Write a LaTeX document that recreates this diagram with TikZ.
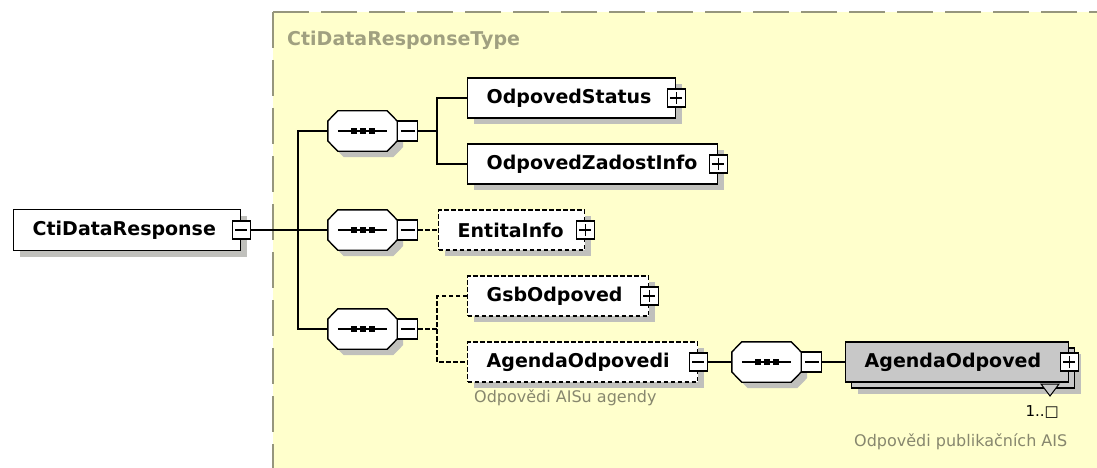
\documentclass[tikz,border=0pt]{standalone}
\usepackage{fontspec}
\setmainfont{DejaVu Sans}
\usetikzlibrary{shadows,calc}
\definecolor{bgyellow}{RGB}{255,255,204}
\definecolor{frame}{RGB}{150,150,125}
\definecolor{typetxt}{RGB}{160,160,128}
\definecolor{anntxt}{RGB}{135,135,110}
\definecolor{shade}{RGB}{192,192,188}
\definecolor{stackfill}{RGB}{200,200,200}
\newcommand{\eltext}[2]{\makebox[#1][l]{#2}}
\tikzset{
  elembase/.style={draw=black, line width=1.4pt, anchor=west, minimum height=40pt,
    inner xsep=19pt, inner ysep=0pt, font=\fontsize{19}{22}\selectfont\bfseries},
  boxshadow/.style={general shadow={fill=shade, shadow xshift=6pt, shadow yshift=-6pt}},
  elem/.style={elembase, fill=white, boxshadow},
  optional/.style={dash pattern=on 4.5pt off 2.5pt},
  tog/.style={draw=black, line width=1.2pt, fill=white, minimum size=18pt, inner sep=0pt},
  minus/.style={tog, path picture={\draw[line width=1.2pt]
      ([xshift=3pt]path picture bounding box.west) -- ([xshift=-3pt]path picture bounding box.east);}},
  plus/.style={tog, path picture={\draw[line width=1.2pt]
      ([xshift=3pt]path picture bounding box.west) -- ([xshift=-3pt]path picture bounding box.east)
      ([yshift=3pt]path picture bounding box.south) -- ([yshift=-3pt]path picture bounding box.north);}},
  seqbox/.style={minimum width=69pt, minimum height=40pt, inner sep=0pt},
  conn/.style={line width=1.3pt},
  ann/.style={anchor=west, inner sep=0pt, font=\fontsize{16}{18}\selectfont, text=anntxt},
}
\begin{document}
\begin{tikzpicture}[x=1pt,y=1pt]
\useasboundingbox (0,0) rectangle (1097,-468);
\fill[white] (0,0) rectangle (1097,-468);
\fill[bgyellow] (273,-12) rectangle (1097,-468);
\draw[frame, line width=2pt, dash pattern=on 36pt off 12pt] (273,-12) -- (273,-468);
\draw[frame, line width=2pt, dash pattern=on 36pt off 12pt] (273,-12) -- (1097,-12);

\node[anchor=west, inner sep=0pt, font=\fontsize{19}{22}\selectfont\bfseries, text=typetxt] (tl) at (287,-40) {CtiDataResponseType};

% root element
\node[elem, minimum height=41pt] (cti) at (13,-230) {\eltext{189pt}{CtiDataResponse}};
\node[minus] (ctim) at (cti.east) {};
\coordinate (trunk) at (298,-230);

% sequence compositors
\node[seqbox] (s1) at (362.5,-131) {};
\node[seqbox] (s2) at (362.5,-230) {};
\node[seqbox] (s3) at (362.5,-329) {};
\node[seqbox] (s4) at (766.5,-362) {};
\foreach \n in {s1,s2,s3,s4}{
  \draw[line width=1.4pt, fill=white, boxshadow]
    ([xshift=10pt]\n.north west) -- ([xshift=-10pt]\n.north east) -- ([yshift=10pt]\n.east)
    -- ([yshift=-10pt]\n.east) -- ([xshift=-10pt]\n.south east) -- ([xshift=10pt]\n.south west)
    -- ([yshift=-10pt]\n.west) -- ([yshift=10pt]\n.west) -- cycle;
  \draw[line width=1.2pt] ([xshift=10pt]\n.west) -- ([xshift=-10pt]\n.east);
  \fill ([xshift=-12pt,yshift=-3pt]\n.center) rectangle ([xshift=-6pt,yshift=3pt]\n.center);
  \fill ([xshift=-3pt,yshift=-3pt]\n.center) rectangle ([xshift=3pt,yshift=3pt]\n.center);
  \fill ([xshift=6pt,yshift=-3pt]\n.center) rectangle ([xshift=12pt,yshift=3pt]\n.center);
}
\node[minus, minimum size=20pt, anchor=west] (s1m) at (s1.east) {};
\node[minus, minimum size=20pt, anchor=west] (s2m) at (s2.east) {};
\node[minus, minimum size=20pt, anchor=west] (s3m) at (s3.east) {};
\node[minus, minimum size=20pt, anchor=west] (s4m) at (s4.east) {};

% child elements
\node[elem] (st) at (467,-98) {\eltext{170pt}{OdpovedStatus}};
\node[plus] (stp) at (st.east) {};
\node[elem] (zi) at (467,-164) {\eltext{212pt}{OdpovedZadostInfo}};
\node[plus] (zip) at (zi.east) {};
\node[elem, optional] (ei) at (438,-230) {\eltext{108pt}{EntitaInfo}};
\node[plus] (eip) at (ei.east) {};
\node[elem, optional] (gs) at (467,-296) {\eltext{143pt}{GsbOdpoved}};
\node[plus] (gsp) at (gs.east) {};
\node[elem, optional] (ai) at (467,-362) {\eltext{192pt}{AgendaOdpovedi}};
\node[minus] (aim) at (ai.east) {};
\node[ann] (an1) at (474,-398) {Odpovědi AISu agendy};

% repeated element (stack)
\node[elembase, fill=stackfill, minimum width=223pt, boxshadow] (aob) at (851,-368) {};
\node[elembase, fill=stackfill] (ao) at (845,-362) {\eltext{185pt}{AgendaOdpoved}};
\node[plus] (aop) at (ao.east) {};
\draw[line width=1pt, fill=stackfill] (1041,-384) -- (1059,-384) -- (1050,-396) -- cycle;
\node[anchor=east, inner sep=0pt, font=\fontsize{15}{17}\selectfont] (occ) at (1059,-412) {1..□};
\node[ann] (an2) at (854,-442) {Odpovědi publikačních AIS};

% connectors
\coordinate (j1) at (437,-131);
\coordinate (j3) at (437,-329);
\draw[conn] (ctim.east) -- (s2.west);
\draw[conn] (s1.west) -| (trunk) |- (s3.west);
\draw[conn] (s1m.east) -- (j1);
\draw[conn] (st.west) -| (j1) |- (zi.west);
\draw[conn, optional] (s2m.east) -- (ei.west);
\draw[conn, optional] (s3m.east) -- (j3);
\draw[conn, optional] (gs.west) -| (j3) |- (ai.west);
\draw[conn] (aim.east) -- (s4.west);
\draw[conn] (s4m.east) -- (ao.west);
\end{tikzpicture}
\end{document}
